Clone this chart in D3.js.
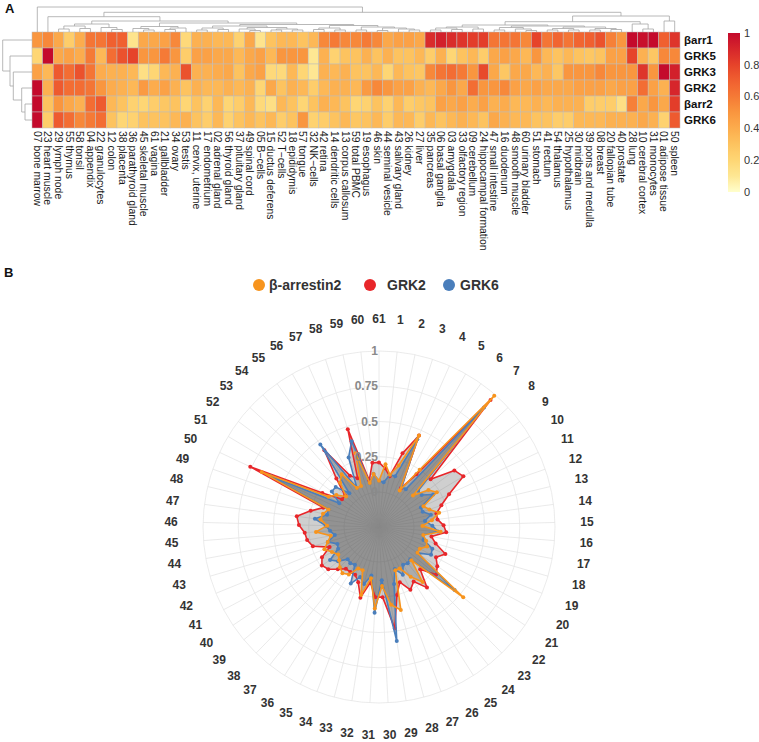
<!DOCTYPE html>
<html><head><meta charset="utf-8">
<script src="https://cdn.jsdelivr.net/npm/d3@7"></script>
<style>body{margin:0;background:#fff;} text{font-family: Arial, "Liberation Sans", sans-serif;}</style>
</head><body><svg id="c" width="759" height="742"></svg>
<script>
// ---------- DATA ----------
const tissues = ["07 bone marrow","23 heart muscle","29 lymph node","55 thymus","58 tonsil","04 appendix","22 granulocytes","12 colon","38 placenta","36 parathyroid gland","45 skeletal muscle","61 vagina","21 gallbladder","34 ovary","53 testis","11 cervix, uterine","17 endometrium","02 adrenal gland","56 thyroid gland","37 pituitary gland","49 spinal cord","05 B\u2212cells","15 ductus deferens","52 T\u2212cells","18 epididymis","57 tongue","32 NK\u2212cells","42 retina","14 dendritic cells","13 corpus callosum","59 total PBMC","19 esophagus","46 skin","44 seminal vesicle","43 salivary gland","26 kidney","27 liver","35 pancreas","06 basal ganglia","03 amygdala","33 olfactory region","09 cerebellum","24 hippocampal formation","47 small intestine","16 duodenum","48 smooth muscle","60 urinary bladder","51 stomach","41 rectum","54 thalamus","25 hypothalamus","30 midbrain","39 pons and medulla","08 breast","20 fallopian tube","40 prostate","28 lung","10 cerebral cortex","31 monocytes","01 adipose tissue","50 spleen"];
const genes = ["βarr1","GRK5","GRK3","GRK2","βarr2","GRK6"];
const barr1 = [0.5,0.55,0.42,0.25,0.4,0.62,0.62,0.7,0.7,0.12, 0.42,0.42,0.45,0.55,0.18,0.38,0.38,0.35,0.35,0.22, 0.42,0.12,0.3,0.35,0.35,0.3,0.35,0.55,0.6,0.55, 0.55,0.6,0.55,0.42,0.45,0.45,0.42,0.88,0.92,0.88, 0.85,0.82,0.82,0.62,0.62,0.62,0.55,0.8,0.62,0.68, 0.62,0.68,0.7,0.75,0.58,0.5,1.0,0.98,1.0,0.7,0.85];
const grk5 = [0.2,1.0,0.42,0.45,0.4,0.6,0.35,0.65,0.75,0.8, 0.5,0.5,0.6,0.5,0.25,0.45,0.45,0.42,0.42,0.35, 0.42,0.45,0.35,0.5,0.5,0.5,0.1,0.38,0.22,0.3, 0.3,0.38,0.3,0.38,0.3,0.3,0.35,0.25,0.38,0.2, 0.3,0.35,0.25,0.42,0.45,0.42,0.35,0.5,0.35,0.3, 0.35,0.3,0.28,0.3,0.45,0.45,0.8,0.38,0.28,0.55,0.55];
const grk3 = [0.45,0.35,0.72,0.65,0.75,0.62,0.4,0.38,0.38,0.35, 0.15,0.2,0.35,0.38,0.75,0.38,0.38,0.4,0.42,0.3, 0.42,0.45,0.18,0.18,0.35,0.2,0.1,0.38,0.35,0.38, 0.3,0.3,0.35,0.2,0.35,0.3,0.28,0.55,0.62,0.65, 0.6,0.5,0.78,0.42,0.28,0.42,0.42,0.35,0.38,0.28, 0.5,0.5,0.5,0.55,0.5,0.5,0.5,0.85,0.5,1.0,0.92];
const grk2 = [1.0,0.38,0.72,0.65,0.65,0.62,0.5,0.4,0.38,0.35, 0.48,0.4,0.45,0.38,0.3,0.38,0.35,0.35,0.38,0.35, 0.38,0.2,0.42,0.3,0.38,0.35,0.25,0.35,0.38,0.38, 0.35,0.48,0.55,0.5,0.45,0.45,0.38,0.35,0.42,0.5, 0.42,0.65,0.5,0.5,0.55,0.45,0.42,0.45,0.42,0.42, 0.42,0.45,0.45,0.45,0.42,0.45,0.45,0.65,0.45,0.38,0.9];
const barr2 = [1.0,0.3,0.5,0.42,0.38,0.65,0.72,0.35,0.3,0.22, 0.2,0.25,0.28,0.3,0.2,0.3,0.22,0.35,0.2,0.25, 0.35,0.18,0.15,0.35,0.3,0.2,0.3,0.38,0.35,0.3, 0.2,0.22,0.3,0.22,0.35,0.25,0.28,0.3,0.45,0.42, 0.45,0.4,0.45,0.38,0.4,0.35,0.35,0.38,0.35,0.38, 0.38,0.38,0.25,0.25,0.25,0.15,0.58,0.42,0.5,0.42,0.82];
const grk6 = [1.0,0.25,0.72,0.65,0.55,0.6,0.65,0.3,0.2,0.22, 0.3,0.3,0.3,0.35,0.38,0.3,0.25,0.35,0.22,0.3, 0.35,0.3,0.35,0.25,0.3,0.5,0.22,0.25,0.3,0.35, 0.28,0.3,0.35,0.25,0.35,0.35,0.25,0.35,0.3,0.35, 0.38,0.35,0.3,0.42,0.38,0.35,0.35,0.3,0.3,0.25, 0.25,0.35,0.35,0.35,0.38,0.38,0.38,0.42,0.38,0.22,0.72];
const legendTicks = [0,0.2,0.4,0.6,0.8,1];

// column dendrogram: [left, right, height], leaves = column index
const colTree = [0, [[1, [[[[2,3,3],[4,5,3.5],6],[6,[7,8,2.5],4.5],8],
    [[[9,[10,11,2],3.5],[[12,13,2.5],14,4],5.5],
     [[[[15,16,2],[17,18,2.5],4],[[19,[20,21,1.5],3],[[22,23,2],[24,25,2],3],4.5],6],
      [[[26,27,2.5],[28,29,2],4],[[30,31,2],[[32,33,1.5],[34,[35,36,2],3],4],5],6.5],7.5],9],11],15.3],
  [[[[[[37,38,2],[39,40,2.5],4],[41,42,3],5],
     [[[43,44,2],[45,[46,47,1.5],3],4.5],[[[48,49,2],[50,51,2],3.5],[[52,53,2],[54,55,2.5],3.5],5],6],7],
    [56,[57,58,3],8],10.3],[59,60,11],16],19.7],25];
const rowTree = [0,[1,[2,[3,[4,5,7],10.3],18.7],22],29.3];

// radar (tissue numbers 1..61)
const radarLabels = d3.range(1, 62);
const radarTicks = [0,0.25,0.5,0.75,1];
const radarBarr2 = [0.2,0.13,0.21,0.46,0.05,0.25,0.99,0.08,0.19,0.23, 0.1,0.13,0.19,0.13,0.06,0.19,0.07,0.1,0.12,0.08, 0.08,0.53,0.08,0.25,0.17,0.08,0.08,0.36,0.31,0.17, 0.33,0.12,0.25,0.08,0.08,0.15,0.17,0.15,0.12,0.1, 0.13,0.17,0.13,0.1,0.2,0.12,0.17,0.16,0.13,0.67, 0.17,0.13,0.07,0.17,0.21,0.07,0.07,0.3,0.07,0.13,0.08];
const radarGRK2 = [0.17,0.12,0.3,0.46,0.07,0.21,0.95,0.25,0.42,0.45, 0.3,0.22,0.17,0.17,0.21,0.23,0.13,0.17,0.26,0.21, 0.25,0.28,0.17,0.3,0.21,0.25,0.17,0.25,0.48,0.25, 0.25,0.15,0.27,0.17,0.13,0.13,0.13,0.17,0.22,0.24, 0.21,0.13,0.24,0.27,0.28,0.32,0.34,0.25,0.17,0.76, 0.22,0.08,0.08,0.21,0.42,0.17,0.13,0.48,0.09,0.21,0.21];
const radarGRK6 = [0.07,0.13,0.13,0.43,0.08,0.08,0.88,0.13,0.13,0.2, 0.08,0.08,0.13,0.08,0.13,0.17,0.07,0.08,0.16,0.17, 0.08,0.45,0.07,0.08,0.07,0.13,0.07,0.17,0.57,0.13, 0.36,0.1,0.17,0.13,0.2,0.07,0.08,0.07,0.13,0.17, 0.08,0.07,0.13,0.07,0.1,0.13,0.21,0.13,0.13,0.6, 0.08,0.17,0.17,0.07,0.47,0.07,0.29,0.39,0.07,0.13,0.08];
const seriesNames = ["β-arrestin2","GRK2","GRK6"];
const seriesColors = ["#F7941D","#E8262A","#4A7EBB"];

// ---------- DRAW ----------
const svg = d3.select("#c");
const matrix = [barr1, grk5, grk3, grk2, barr2, grk6];

const xH = d3.scaleBand().domain(d3.range(tissues.length)).range([32, 680]);
const yH = d3.scaleBand().domain(genes).range([32, 128]);
const color = d3.scaleLinear()
  .domain([0,0.1,0.2,0.3,0.4,0.5,0.6,0.7,0.8,0.9,1])
  .range(["#FFFFCC","#FEE793","#FED674","#FDC35F","#FCAC4D","#F9963F","#F57A36","#F06030","#E6432A","#D6262B","#C40A2C"])
  .interpolate(d3.interpolateRgb);

svg.append("text").attr("x",5).attr("y",13).attr("font-weight","bold").attr("font-size",13).attr("fill","#111").text("A");
svg.append("text").attr("x",4).attr("y",277).attr("font-weight","bold").attr("font-size",13).attr("fill","#111").text("B");

// heatmap cells
const gH = svg.append("g");
genes.forEach((g, gi) => {
  gH.selectAll(null).data(matrix[gi]).enter().append("rect")
    .attr("x", (d,i) => xH(i)).attr("y", yH(g))
    .attr("width", xH.bandwidth()).attr("height", yH.bandwidth())
    .attr("fill", d => color(d)).attr("stroke", "#bdbdbd").attr("stroke-width", 0.5);
});
svg.selectAll(null).data(genes).enter().append("text")
  .attr("x", 684).attr("y", d => yH(d) + yH.bandwidth()/2).attr("dy","0.35em")
  .attr("font-size", 11.5).attr("font-weight","bold").attr("fill","#111").text(d => d);
svg.selectAll(null).data(tissues).enter().append("text")
  .attr("transform", (d,i) => `translate(${xH(i)+xH.bandwidth()/2},131) rotate(90)`)
  .attr("dy","0.35em").attr("font-size", 10.4).attr("fill","#1a1a1a").text(d => d);

// dendrograms
function layout(node, leafPos) {
  if (typeof node === "number") return {pos: leafPos(node), h: 0};
  const l = layout(node[0], leafPos), r = layout(node[1], leafPos);
  return {pos: (l.pos + r.pos)/2, h: node[2], children: [l, r]};
}
function segs(n, out) {
  if (!n.children) return out;
  out.push({l: n.children[0], r: n.children[1], h: n.h});
  n.children.forEach(c => segs(c, out));
  return out;
}
const colRoot = layout(colTree, i => xH(i) + xH.bandwidth()/2);
const yD = d3.scaleLinear().domain([0, 25]).range([32, 7]);
svg.append("g").selectAll("path").data(segs(colRoot, [])).enter().append("path")
  .attr("d", s => `M${s.l.pos},${yD(s.l.h)}V${yD(s.h)}H${s.r.pos}V${yD(s.r.h)}`)
  .attr("fill","none").attr("stroke","#a6a6a6").attr("stroke-width",0.8);
const rowRoot = layout(rowTree, i => yH(genes[i]) + yH.bandwidth()/2);
const xD = d3.scaleLinear().domain([0, 29.3]).range([32, 2.7]);
svg.append("g").selectAll("path").data(segs(rowRoot, [])).enter().append("path")
  .attr("d", s => `M${xD(s.l.h)},${s.l.pos}H${xD(s.h)}V${s.r.pos}H${xD(s.r.h)}`)
  .attr("fill","none").attr("stroke","#a6a6a6").attr("stroke-width",0.8);

// color legend
const defs = svg.append("defs");
const grad = defs.append("linearGradient").attr("id","lg").attr("x1",0).attr("y1",1).attr("x2",0).attr("y2",0);
d3.range(0, 1.0001, 0.05).forEach(t => grad.append("stop").attr("offset", t).attr("stop-color", color(t)));
const yL = d3.scaleLinear().domain([0,1]).range([192, 33]);
svg.append("rect").attr("x",728).attr("y",yL(1)).attr("width",12).attr("height",yL(0)-yL(1)).attr("fill","url(#lg)");
svg.selectAll(null).data(legendTicks).enter().append("text")
  .attr("x",744).attr("y", d => yL(d)).attr("dy","0.35em").attr("font-size",11).attr("fill","#333")
  .text(d => d3.format("~g")(d));

// ---------- RADAR ----------
const cx = 379, cy = 527;
const rS = d3.scaleLinear().domain([0,1]).range([35,176]);
const ang = t => t * 2 * Math.PI / 61;
const gR = svg.append("g").attr("transform", `translate(${cx},${cy})`);
radarTicks.forEach(t => gR.append("circle").attr("r", rS(t)).attr("fill","none").attr("stroke","#e6e6e6").attr("stroke-width",0.8));
gR.selectAll(null).data(radarLabels).enter().append("line")
  .attr("x1",0).attr("y1",0)
  .attr("x2", d => rS(1)*Math.sin(ang(d))).attr("y2", d => -rS(1)*Math.cos(ang(d)))
  .attr("stroke","#e4e4e4").attr("stroke-width",0.8);

const series = [radarGRK2, radarGRK6, radarBarr2];
const sColors = [seriesColors[1], seriesColors[2], seriesColors[0]];
const line = d3.lineRadial().angle((d,i) => ang(radarLabels[i])).radius(d => rS(d)).curve(d3.curveLinearClosed);
series.forEach(s => gR.append("path").attr("d", line(s)).attr("fill","#4d4d4d").attr("fill-opacity",0.27).attr("stroke","none"));
series.forEach((s, k) => {
  gR.append("path").attr("d", line(s)).attr("fill","none").attr("stroke", sColors[k]).attr("stroke-width",1.6).attr("stroke-linejoin","round");
  gR.selectAll(null).data(s).enter().append("circle")
    .attr("cx", (d,i) => rS(d)*Math.sin(ang(radarLabels[i])))
    .attr("cy", (d,i) => -rS(d)*Math.cos(ang(radarLabels[i])))
    .attr("r", 2).attr("fill", sColors[k]);
});
gR.selectAll(null).data(radarTicks).enter().append("text")
  .attr("x", -1).attr("y", d => -rS(d)).attr("dy","0.35em").attr("text-anchor","end")
  .attr("font-size",12).attr("font-weight","bold").attr("fill","#8a8a8a").text(d => d3.format("~g")(d));
gR.selectAll(null).data(radarLabels).enter().append("text")
  .attr("x", d => 208*Math.sin(ang(d))).attr("y", d => -208*Math.cos(ang(d)))
  .attr("dy","0.35em").attr("text-anchor","middle")
  .attr("font-size",12).attr("font-weight","bold").attr("fill","#333").text(d => d);

// radar legend
const legX = [259, 370, 449];
const legOff = [10, 17, 11];
const legG = svg.append("g");
seriesNames.forEach((n, k) => {
  legG.append("circle").attr("cx", legX[k]).attr("cy", 285).attr("r", 6).attr("fill", seriesColors[k]);
  legG.append("text").attr("x", legX[k] + legOff[k]).attr("y", 285).attr("dy","0.35em")
    .attr("font-size",14).attr("font-weight","bold").attr("fill","#333").text(n);
});
</script></body></html>
